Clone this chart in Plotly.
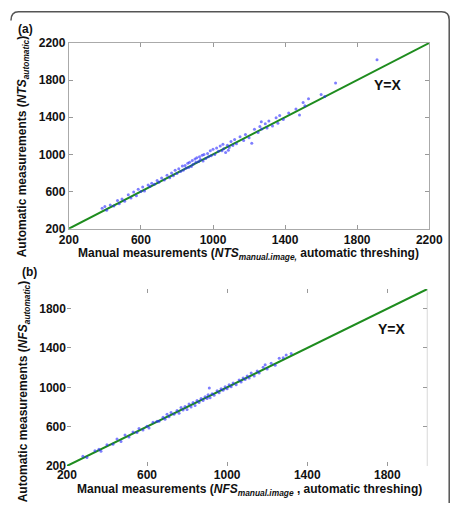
import plotly.graph_objects as go

W, H = 467, 507

# ---------------- data ----------------
a_x = [385, 400, 410, 430, 450, 470, 480, 495, 510, 530, 545, 560, 575, 585, 600, 610, 620, 640, 650, 660,
       675, 690, 700, 715, 730, 745, 760, 770, 780, 790, 800, 810, 820, 830, 835, 845, 850, 860, 865, 870,
       880, 885, 890, 900, 905, 910, 920, 925, 930, 940, 945, 950, 960, 970, 975, 985, 990, 1000, 1010, 1020,
       1030, 1040, 1050, 1055, 1060, 1070, 1080, 1085, 1090, 1100, 1110, 1120, 1130, 1150, 1170, 1180, 1200,
       1215, 1230, 1250, 1260, 1268, 1270, 1290, 1300, 1310, 1330, 1350, 1360, 1370, 1390, 1420, 1460, 1480,
       1500, 1510, 1530, 1600, 1620, 1680, 1910]
a_y = [420, 440, 400, 455, 445, 505, 470, 520, 495, 565, 530, 595, 555, 625, 600, 650, 605, 670, 655, 690,
       680, 720, 700, 745, 725, 775, 750, 800, 770, 830, 795, 845, 815, 875, 830, 880, 850, 905, 860, 915,
       870, 935, 895, 950, 915, 965, 925, 975, 945, 990, 930, 1000, 955, 1010, 975, 1040, 985, 1055, 1000, 1070,
       1035, 1090, 1040, 1110, 1060, 1020, 1100, 1045, 1075, 1140, 1095, 1160, 1115, 1190, 1150, 1215, 1180,
       1120, 1270, 1235, 1300, 1352, 1275, 1330, 1285, 1360, 1305, 1395, 1335, 1420, 1375, 1445, 1490, 1425,
       1560, 1525, 1600, 1645, 1625, 1770, 2020]

b_x = [280, 300, 340, 360, 370, 400, 430, 450, 470, 490, 510, 530, 550, 560, 580, 600, 610, 630, 650, 660,
       680, 690, 700, 710, 720, 735, 750, 760, 770, 780, 790, 800, 810, 820, 830, 840, 850, 860, 870, 880,
       890, 900, 905, 911, 915, 925, 935, 950, 960, 970, 980, 990, 1000, 1010, 1020, 1030, 1045, 1060, 1070,
       1080, 1090, 1100, 1110, 1120, 1135, 1150, 1160, 1180, 1190, 1200, 1220, 1240, 1260, 1280, 1295, 1320]
b_y = [300, 285, 355, 370, 350, 415, 420, 475, 450, 515, 495, 545, 540, 580, 565, 605, 585, 645, 655, 655,
       695, 675, 725, 700, 745, 725, 765, 735, 795, 770, 805, 775, 830, 800, 845, 815, 865, 845, 885, 865,
       905, 885, 925, 994, 895, 935, 920, 965, 945, 985, 970, 1005, 985, 1025, 1005, 1045, 1025, 1075, 1055,
       1095, 1080, 1115, 1095, 1145, 1115, 1165, 1145, 1205, 1230, 1185, 1245, 1225, 1295, 1300, 1328, 1345]

a_line = [200, 2200]
b_line = [200, 2000]
a_ticks = [200, 600, 1000, 1400, 1800, 2200]
b_ticks = [200, 600, 1000, 1400, 1800]

# ---------------- figure ----------------
fig = go.Figure()

pt = dict(size=3, color="rgba(40,40,255,0.6)", symbol="circle")
ln = dict(color="#1e8c1e", width=2)

fig.add_trace(go.Scatter(x=a_line, y=a_line, mode="lines", line=ln, xaxis="x", yaxis="y", showlegend=False))
fig.add_trace(go.Scatter(x=a_x, y=a_y, mode="markers", marker=pt, xaxis="x", yaxis="y", showlegend=False))
fig.add_trace(go.Scatter(x=b_line, y=b_line, mode="lines", line=ln, xaxis="x2", yaxis="y2", showlegend=False))
fig.add_trace(go.Scatter(x=b_x, y=b_y, mode="markers", marker=pt, xaxis="x2", yaxis="y2", showlegend=False))

def px(x):
    return x / W

def py(y):
    return 1 - y / H

tickfont = dict(family="Liberation Sans, Arial", size=12, color="#111", weight="bold")

common = dict(ticks="inside", ticklen=4, tickcolor="#999", tickfont=tickfont,
              zeroline=False, showgrid=False)

fig.update_layout(
    width=W, height=H,
    margin=dict(l=0, r=0, t=0, b=0),
    paper_bgcolor="white", plot_bgcolor="white",
    xaxis=dict(domain=[px(62), px(442)], range=[200, 2200], tickvals=a_ticks, anchor="y",
               showline=True, linecolor="#aaa", linewidth=1, mirror="ticks", **common),
    yaxis=dict(domain=[py(228), py(37)], range=[200, 2200], tickvals=a_ticks, anchor="x",
               showline=True, linecolor="#aaa", linewidth=1, mirror="ticks", **common),
    xaxis2=dict(domain=[px(60), px(440)], range=[200, 2000], tickvals=b_ticks, anchor="y2",
                showline=False, mirror="ticks", **common),
    yaxis2=dict(domain=[py(472), py(290)], range=[200, 2000], tickvals=b_ticks, anchor="x2",
                showline=False, mirror="ticks", **common),
)

# right axis line of panel (b)
fig.add_shape(type="line", xref="x2", yref="y2", x0=2000, x1=2000, y0=200, y1=2000,
              line=dict(color="#aaa", width=1))

# outer rounded frame (top and right edges visible)
path = (f"M {px(1)},{py(14)} Q {px(1)},{py(5)} {px(9)},{py(5)} "
        f"L {px(455)},{py(5)} Q {px(463)},{py(5)} {px(463)},{py(13)} "
        f"L {px(463)},{py(510)}")
fig.add_shape(type="path", xref="paper", yref="paper", path=path,
              line=dict(color="#555", width=1.5))

tfont = dict(family="Liberation Sans, Arial", size=12, color="#111", weight="bold")

def ann(text, x, y, angle=0, size=12):
    f = dict(tfont)
    f["size"] = size
    fig.add_annotation(text=text, x=px(x), y=py(y), xref="paper", yref="paper",
                       showarrow=False, textangle=angle, font=f,
                       xanchor="center", yanchor="middle")

ann("Automatic measurements (<i>NTS</i><sub><i>automatic</i></sub>)", 14, 143, angle=-90, size=12)
ann("Manual measurements (<i>NTS</i><sub><i>manual.image,</i></sub> automatic threshing)", 251, 254, size=12)
ann("Automatic measurements (<i>NFS</i><sub><i>automatic</i></sub>)", 15, 395, angle=-90, size=12)
ann("Manual measurements (<i>NFS</i><sub><i>manual.image</i></sub> , automatic threshing)", 253, 497, size=12)
ann("(a)", 16, 23, size=12)
ann("(b)", 21, 273, size=12)
ann("Y=X", 398, 80, size=14)
ann("Y=X", 403, 331, size=14)

fig.write_html("out.html")
